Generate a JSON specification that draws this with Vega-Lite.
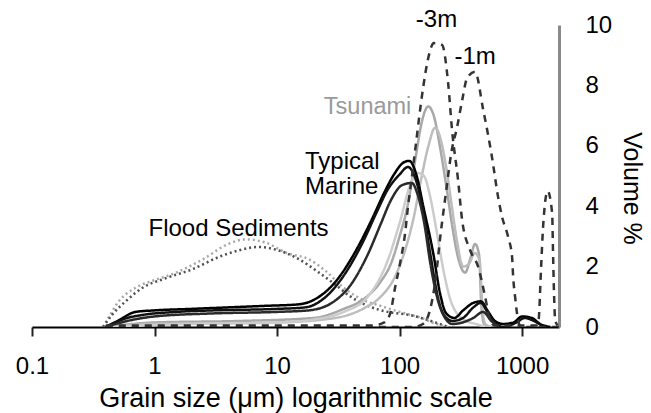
{
  "$schema": "https://vega.github.io/schema/vega-lite/v6.json",
  "autosize": {"type": "none"},
  "width": 527,
  "height": 302,
  "padding": {"left": 32, "top": 25, "right": 92, "bottom": 86},
  "background": "white",
  "config": {"view": {"stroke": null}, "font": "Liberation Sans"},
  "datasets": {
    "curves": [
      {"s":"flood1","x":0.38,"y":0},{"s":"flood1","x":0.42,"y":0.3},{"s":"flood1","x":0.5,"y":0.8},{"s":"flood1","x":0.7,"y":1.3},{"s":"flood1","x":1,"y":1.55},{"s":"flood1","x":1.5,"y":1.8},{"s":"flood1","x":2.5,"y":2.25},{"s":"flood1","x":4,"y":2.75},{"s":"flood1","x":5.5,"y":2.9},{"s":"flood1","x":8,"y":2.8},{"s":"flood1","x":12,"y":2.45},{"s":"flood1","x":18,"y":2.25},{"s":"flood1","x":25,"y":1.85},{"s":"flood1","x":35,"y":1.3},{"s":"flood1","x":50,"y":0.9},{"s":"flood1","x":70,"y":0.7},{"s":"flood1","x":100,"y":0.5},{"s":"flood1","x":150,"y":0.3},{"s":"flood1","x":200,"y":0.1},{"s":"flood1","x":250,"y":0},
      {"s":"flood2","x":0.38,"y":0},{"s":"flood2","x":0.45,"y":0.4},{"s":"flood2","x":0.6,"y":0.9},{"s":"flood2","x":0.8,"y":1.3},{"s":"flood2","x":1.2,"y":1.6},{"s":"flood2","x":2,"y":1.9},{"s":"flood2","x":3.5,"y":2.35},{"s":"flood2","x":5,"y":2.55},{"s":"flood2","x":7,"y":2.65},{"s":"flood2","x":10,"y":2.55},{"s":"flood2","x":15,"y":2.25},{"s":"flood2","x":22,"y":1.8},{"s":"flood2","x":30,"y":1.4},{"s":"flood2","x":40,"y":1.0},{"s":"flood2","x":55,"y":0.7},{"s":"flood2","x":80,"y":0.5},{"s":"flood2","x":120,"y":0.4},{"s":"flood2","x":180,"y":0.2},{"s":"flood2","x":250,"y":0},
      {"s":"tsunami1","x":0.4,"y":0},{"s":"tsunami1","x":1,"y":0.15},{"s":"tsunami1","x":5,"y":0.2},{"s":"tsunami1","x":20,"y":0.3},{"s":"tsunami1","x":35,"y":0.6},{"s":"tsunami1","x":50,"y":0.9},{"s":"tsunami1","x":70,"y":1.5},{"s":"tsunami1","x":85,"y":2.1},{"s":"tsunami1","x":100,"y":3.0},{"s":"tsunami1","x":116,"y":4.0},{"s":"tsunami1","x":135,"y":5.6},{"s":"tsunami1","x":152,"y":6.8},{"s":"tsunami1","x":171,"y":7.3},{"s":"tsunami1","x":190,"y":7.0},{"s":"tsunami1","x":215,"y":5.9},{"s":"tsunami1","x":244,"y":4.5},{"s":"tsunami1","x":270,"y":3.3},{"s":"tsunami1","x":300,"y":2.3},{"s":"tsunami1","x":343,"y":1.8},{"s":"tsunami1","x":380,"y":2.3},{"s":"tsunami1","x":413,"y":2.75},{"s":"tsunami1","x":445,"y":2.4},{"s":"tsunami1","x":465,"y":0.7},{"s":"tsunami1","x":490,"y":0.1},{"s":"tsunami1","x":550,"y":0},
      {"s":"tsunami2","x":0.4,"y":0},{"s":"tsunami2","x":1,"y":0.1},{"s":"tsunami2","x":10,"y":0.15},{"s":"tsunami2","x":30,"y":0.3},{"s":"tsunami2","x":50,"y":0.6},{"s":"tsunami2","x":70,"y":1.0},{"s":"tsunami2","x":90,"y":1.6},{"s":"tsunami2","x":110,"y":2.5},{"s":"tsunami2","x":130,"y":3.6},{"s":"tsunami2","x":150,"y":4.9},{"s":"tsunami2","x":172,"y":6.0},{"s":"tsunami2","x":195,"y":6.6},{"s":"tsunami2","x":220,"y":6.1},{"s":"tsunami2","x":244,"y":5.1},{"s":"tsunami2","x":268,"y":3.95},{"s":"tsunami2","x":294,"y":2.85},{"s":"tsunami2","x":330,"y":2.0},{"s":"tsunami2","x":370,"y":2.1},{"s":"tsunami2","x":410,"y":2.45},{"s":"tsunami2","x":450,"y":2.2},{"s":"tsunami2","x":475,"y":0.6},{"s":"tsunami2","x":500,"y":0.1},{"s":"tsunami2","x":560,"y":0},
      {"s":"tsunami3","x":0.4,"y":0},{"s":"tsunami3","x":2,"y":0.1},{"s":"tsunami3","x":10,"y":0.15},{"s":"tsunami3","x":20,"y":0.25},{"s":"tsunami3","x":35,"y":0.5},{"s":"tsunami3","x":55,"y":1.0},{"s":"tsunami3","x":80,"y":2.2},{"s":"tsunami3","x":101,"y":3.5},{"s":"tsunami3","x":122,"y":4.7},{"s":"tsunami3","x":140,"y":5.1},{"s":"tsunami3","x":158,"y":5.0},{"s":"tsunami3","x":178,"y":4.3},{"s":"tsunami3","x":200,"y":3.2},{"s":"tsunami3","x":230,"y":1.8},{"s":"tsunami3","x":260,"y":0.9},{"s":"tsunami3","x":300,"y":0.4},{"s":"tsunami3","x":350,"y":0.2},{"s":"tsunami3","x":420,"y":0.1},{"s":"tsunami3","x":500,"y":0},
      {"s":"marine1","x":0.4,"y":0},{"s":"marine1","x":0.5,"y":0.2},{"s":"marine1","x":0.7,"y":0.5},{"s":"marine1","x":1,"y":0.55},{"s":"marine1","x":2,"y":0.6},{"s":"marine1","x":4,"y":0.65},{"s":"marine1","x":8,"y":0.7},{"s":"marine1","x":15,"y":0.75},{"s":"marine1","x":20,"y":0.9},{"s":"marine1","x":30,"y":1.5},{"s":"marine1","x":45,"y":2.6},{"s":"marine1","x":60,"y":3.6},{"s":"marine1","x":75,"y":4.45},{"s":"marine1","x":90,"y":5.05},{"s":"marine1","x":108,"y":5.45},{"s":"marine1","x":120,"y":5.5},{"s":"marine1","x":138,"y":5.0},{"s":"marine1","x":156,"y":4.0},{"s":"marine1","x":189,"y":2.4},{"s":"marine1","x":213,"y":1.15},{"s":"marine1","x":240,"y":0.45},{"s":"marine1","x":280,"y":0.3},{"s":"marine1","x":330,"y":0.55},{"s":"marine1","x":400,"y":0.8},{"s":"marine1","x":460,"y":0.85},{"s":"marine1","x":530,"y":0.5},{"s":"marine1","x":600,"y":0.2},{"s":"marine1","x":700,"y":0.1},{"s":"marine1","x":850,"y":0.15},{"s":"marine1","x":1000,"y":0.35},{"s":"marine1","x":1200,"y":0.3},{"s":"marine1","x":1400,"y":0.1},{"s":"marine1","x":1700,"y":0},
      {"s":"marine2","x":0.4,"y":0},{"s":"marine2","x":0.6,"y":0.3},{"s":"marine2","x":0.8,"y":0.4},{"s":"marine2","x":1.5,"y":0.5},{"s":"marine2","x":3,"y":0.55},{"s":"marine2","x":10,"y":0.6},{"s":"marine2","x":17,"y":0.65},{"s":"marine2","x":25,"y":1.0},{"s":"marine2","x":35,"y":1.7},{"s":"marine2","x":50,"y":2.8},{"s":"marine2","x":65,"y":3.8},{"s":"marine2","x":80,"y":4.55},{"s":"marine2","x":100,"y":5.05},{"s":"marine2","x":117,"y":5.3},{"s":"marine2","x":135,"y":4.9},{"s":"marine2","x":155,"y":3.9},{"s":"marine2","x":180,"y":2.3},{"s":"marine2","x":205,"y":1.0},{"s":"marine2","x":230,"y":0.4},{"s":"marine2","x":270,"y":0.2},{"s":"marine2","x":330,"y":0.3},{"s":"marine2","x":400,"y":0.65},{"s":"marine2","x":460,"y":0.8},{"s":"marine2","x":520,"y":0.5},{"s":"marine2","x":600,"y":0.15},{"s":"marine2","x":700,"y":0},{"s":"marine2","x":900,"y":0.15},{"s":"marine2","x":1050,"y":0.3},{"s":"marine2","x":1250,"y":0.2},{"s":"marine2","x":1500,"y":0},
      {"s":"marine3","x":0.4,"y":0},{"s":"marine3","x":0.6,"y":0.2},{"s":"marine3","x":1,"y":0.35},{"s":"marine3","x":3,"y":0.45},{"s":"marine3","x":10,"y":0.5},{"s":"marine3","x":18,"y":0.55},{"s":"marine3","x":28,"y":0.8},{"s":"marine3","x":40,"y":1.4},{"s":"marine3","x":55,"y":2.4},{"s":"marine3","x":70,"y":3.4},{"s":"marine3","x":85,"y":4.2},{"s":"marine3","x":105,"y":4.7},{"s":"marine3","x":126,"y":4.77},{"s":"marine3","x":140,"y":4.4},{"s":"marine3","x":158,"y":3.5},{"s":"marine3","x":180,"y":2.0},{"s":"marine3","x":205,"y":0.9},{"s":"marine3","x":235,"y":0.3},{"s":"marine3","x":270,"y":0.1},{"s":"marine3","x":400,"y":0.3},{"s":"marine3","x":480,"y":0.5},{"s":"marine3","x":560,"y":0.2},{"s":"marine3","x":650,"y":0},
      {"s":"m3","x":0.4,"y":0.05},{"s":"m3","x":10,"y":0.05},{"s":"m3","x":60,"y":0.05},{"s":"m3","x":75,"y":0.15},{"s":"m3","x":84,"y":0.46},{"s":"m3","x":92,"y":1.32},{"s":"m3","x":101,"y":2.12},{"s":"m3","x":111,"y":3.11},{"s":"m3","x":117,"y":3.97},{"s":"m3","x":126,"y":4.97},{"s":"m3","x":134,"y":5.86},{"s":"m3","x":156,"y":7.95},{"s":"m3","x":168,"y":8.74},{"s":"m3","x":191,"y":9.4},{"s":"m3","x":222,"y":9.34},{"s":"m3","x":249,"y":8.08},{"s":"m3","x":268,"y":6.52},{"s":"m3","x":300,"y":4.87},{"s":"m3","x":324,"y":3.54},{"s":"m3","x":376,"y":2.55},{"s":"m3","x":438,"y":1.99},{"s":"m3","x":499,"y":1.0},{"s":"m3","x":548,"y":0.23},{"s":"m3","x":600,"y":0.05},{"s":"m3","x":1300,"y":0.05},{"s":"m3","x":1360,"y":0.2},{"s":"m3","x":1429,"y":1.99},{"s":"m3","x":1483,"y":3.31},{"s":"m3","x":1616,"y":4.5},{"s":"m3","x":1758,"y":3.77},{"s":"m3","x":1791,"y":2.32},{"s":"m3","x":1825,"y":0.99},{"s":"m3","x":1860,"y":0.23},{"s":"m3","x":1950,"y":0.05},
      {"s":"m1","x":0.4,"y":0},{"s":"m1","x":130,"y":0},{"s":"m1","x":155,"y":0.1},{"s":"m1","x":178,"y":0.6},{"s":"m1","x":197,"y":1.6},{"s":"m1","x":215,"y":3.0},{"s":"m1","x":240,"y":4.5},{"s":"m1","x":265,"y":5.8},{"s":"m1","x":294,"y":6.6},{"s":"m1","x":324,"y":7.5},{"s":"m1","x":356,"y":8.25},{"s":"m1","x":413,"y":8.45},{"s":"m1","x":481,"y":7.2},{"s":"m1","x":569,"y":5.6},{"s":"m1","x":637,"y":4.3},{"s":"m1","x":687,"y":3.64},{"s":"m1","x":769,"y":2.98},{"s":"m1","x":828,"y":2.32},{"s":"m1","x":845,"y":1.66},{"s":"m1","x":877,"y":0.99},{"s":"m1","x":927,"y":0.23},{"s":"m1","x":980,"y":0},{"s":"m1","x":2000,"y":0}
    ]
  },
  "layer": [
    {
      "data": {"name": "curves"},
      "mark": {"type": "line", "interpolate": "monotone", "clip": true},
      "encoding": {
        "x": {
          "field": "x", "type": "quantitative",
          "scale": {"type": "log", "domain": [0.1, 2000], "nice": false},
          "axis": {
            "values": [0.1, 1, 10, 100, 1000], "format": "~g",
            "grid": false, "domainColor": "black", "domainWidth": 2,
            "tickColor": "#222", "tickWidth": 2, "tickSize": 9,
            "labelFontSize": 24, "labelColor": "black", "labelPadding": 18,
            "labelFlush": false,
            "title": "Grain size (μm) logarithmic scale",
            "titleFontSize": 27, "titleFontWeight": "normal", "titleColor": "black", "titlePadding": 7
          }
        },
        "y": {
          "field": "y", "type": "quantitative",
          "scale": {"domain": [0, 10], "nice": false},
          "axis": {
            "orient": "right", "values": [0, 2, 4, 6, 8, 10],
            "grid": false, "ticks": false, "domainColor": "#8a8a8a", "domainWidth": 3,
            "labelFontSize": 24, "labelColor": "black", "labelPadding": 26,
            "labelFlush": false,
            "title": "Volume %", "titleFontSize": 25, "titleFontWeight": "normal",
            "titleColor": "black", "titlePadding": 7, "titleY": 163
          }
        },
        "detail": {"field": "s"},
        "color": {
          "field": "s", "type": "nominal", "legend": null,
          "scale": {
            "domain": ["flood1","flood2","tsunami1","tsunami2","tsunami3","marine1","marine2","marine3","m3","m1"],
            "range": ["#a8a8a8","#505050","#a8a8a8","#bdbdbd","#cccccc","#000000","#111111","#2a2a2a","#333333","#333333"]
          }
        },
        "strokeDash": {
          "field": "s", "type": "nominal", "legend": null,
          "scale": {
            "domain": ["flood1","flood2","tsunami1","tsunami2","tsunami3","marine1","marine2","marine3","m3","m1"],
            "range": [[2,3],[2,3],[1,0],[1,0],[1,0],[1,0],[1,0],[1,0],[7,6],[7,6]]
          }
        },
        "strokeWidth": {
          "field": "s", "type": "nominal", "legend": null,
          "scale": {
            "domain": ["flood1","flood2","tsunami1","tsunami2","tsunami3","marine1","marine2","marine3","m3","m1"],
            "range": [2.5,2.5,2,2,2,2.5,2.5,2.5,3.5,3.5]
          }
        }
      }
    },
    {
      "data": {"values": [
        {"label": "Flood Sediments", "x": 4.85, "y": 3.25},
        {"label": "-3m", "x": 200, "y": 10.17},
        {"label": "-1m", "x": 413, "y": 8.94}
      ]},
      "mark": {"type": "text", "fontSize": 24, "color": "black", "align": "center", "baseline": "middle"},
      "encoding": {
        "x": {"field": "x", "type": "quantitative"},
        "y": {"field": "y", "type": "quantitative"},
        "text": {"field": "label"}
      }
    },
    {
      "data": {"values": [{"label": "Tsunami", "x": 54.8, "y": 7.27}]},
      "mark": {"type": "text", "fontSize": 23.5, "color": "#9a9a9a", "align": "center", "baseline": "middle"},
      "encoding": {
        "x": {"field": "x", "type": "quantitative"},
        "y": {"field": "y", "type": "quantitative"},
        "text": {"field": "label"}
      }
    },
    {
      "data": {"values": [{"label": "Typical\nMarine", "x": 16.9, "y": 5.45}]},
      "mark": {"type": "text", "fontSize": 24, "color": "black", "align": "left", "baseline": "middle", "lineBreak": "\n", "lineHeight": 25},
      "encoding": {
        "x": {"field": "x", "type": "quantitative"},
        "y": {"field": "y", "type": "quantitative"},
        "text": {"field": "label"}
      }
    }
  ]
}
